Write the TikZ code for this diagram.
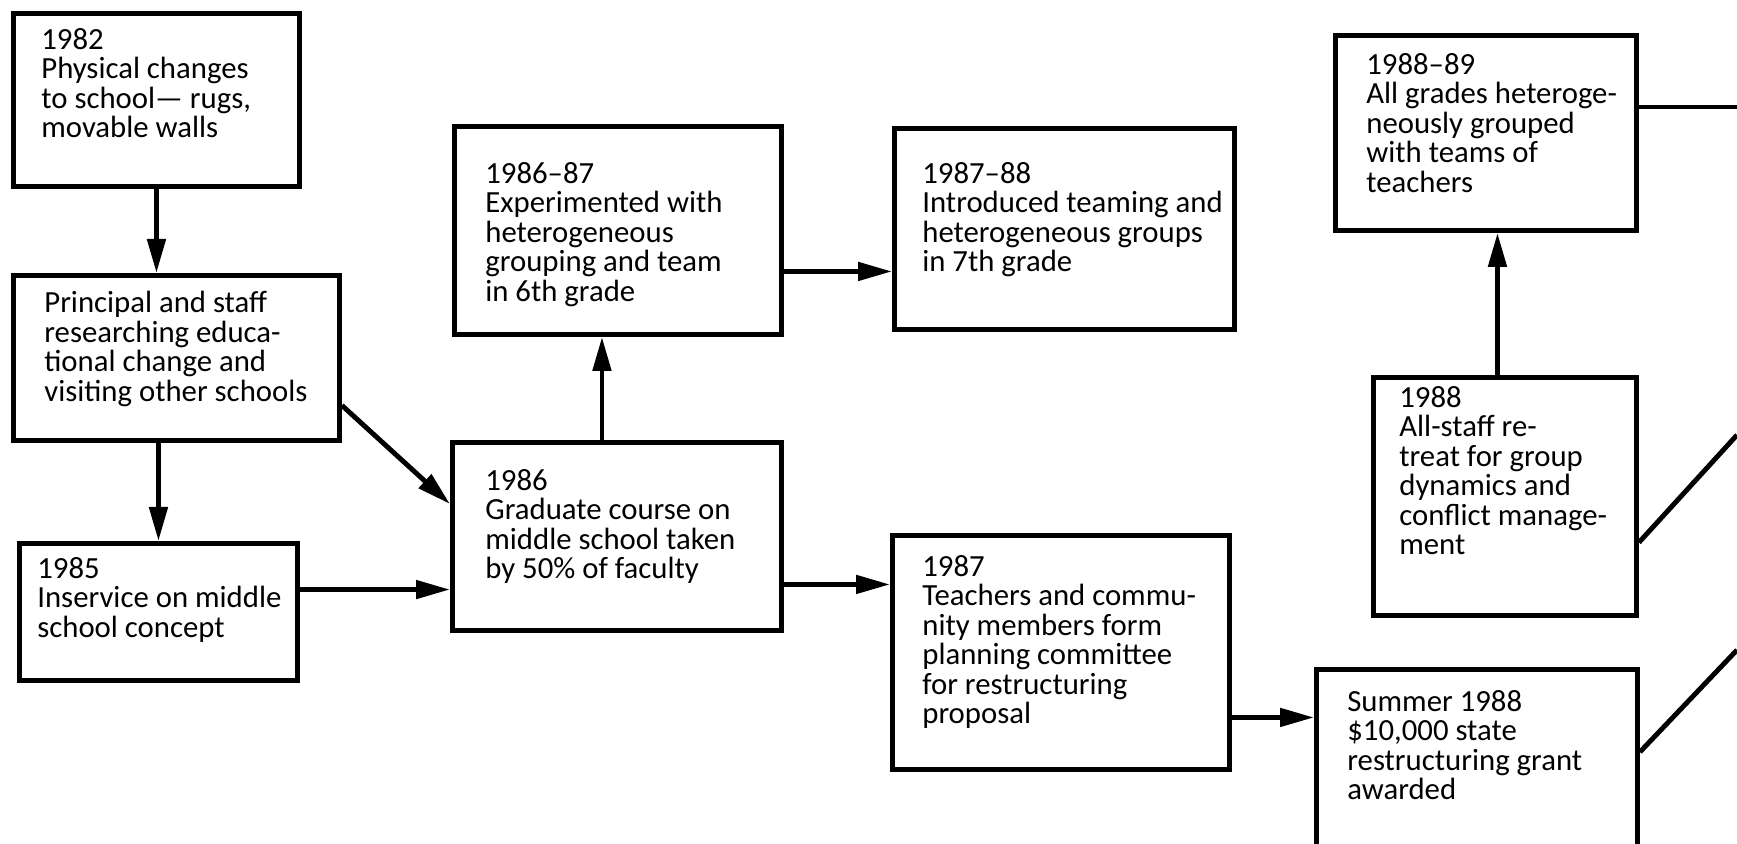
\documentclass[tikz,border=0pt]{standalone}
\usepackage{fontspec}
\usepackage{tikz}
\usetikzlibrary{arrows.meta}
\newfontfamily\handfont{Carlito}

\tikzset{
  stage/.style={draw, line width=2.8pt, anchor=north west, inner sep=0pt},
  note/.style={anchor=north west, align=left, inner sep=0pt,
    font={\handfont\fontsize{17.5}{16.8}\selectfont}},
  flow/.style={line width=2.8pt, -{Triangle[length=0.68cm, width=0.36cm]}},
  link/.style={line width=2.8pt},
}

\begin{document}
\begin{tikzpicture}

 \useasboundingbox (0,0) rectangle (34.74,16.88);
 \clip (0,0) rectangle (34.74,16.88);

 % left column
 \node[stage, minimum width=5.72cm, minimum height=3.46cm] (b82) at (0.22,16.66) {};
 \node[note] (t82) at ([shift={(0.60,-0.34)}]b82.north west) {1982\\Physical changes\\to school— rugs,\\movable walls};
 \node[stage, minimum width=6.52cm, minimum height=3.30cm] (bprin) at (0.22,11.42) {};
 \node[note] (tprin) at ([shift={(0.66,-0.36)}]bprin.north west) {Principal and staff\\researching educa-\\tional change and\\visiting other schools};
 \node[stage, minimum width=5.56cm, minimum height=2.74cm] (b85) at (0.34,6.06) {};
 \node[note] (t85) at ([shift={(0.40,-0.32)}]b85.north west) {1985\\Inservice on middle\\school concept};

 % second column
 \node[stage, minimum width=6.54cm, minimum height=4.16cm] (b8687) at (9.04,14.40) {};
 \node[note] (t8687) at ([shift={(0.66,-0.76)}]b8687.north west) {1986–87\\Experimented with\\heterogeneous\\grouping and team\\in 6th grade};
 \node[stage, minimum width=6.58cm, minimum height=3.76cm] (b86) at (9.00,8.08) {};
 \node[note] (t86) at ([shift={(0.70,-0.58)}]b86.north west) {1986\\Graduate course on\\middle school taken\\by 50\% of faculty};

 % third column
 \node[stage, minimum width=6.80cm, minimum height=4.02cm] (b8788) at (17.84,14.36) {};
 \node[note] (t8788) at ([shift={(0.60,-0.72)}]b8788.north west) {1987–88\\Introduced teaming and\\heterogeneous groups\\in 7th grade};
 \node[stage, minimum width=6.74cm, minimum height=4.68cm] (b87) at (17.80,6.22) {};
 \node[note] (t87) at ([shift={(0.64,-0.44)}]b87.north west) {1987\\Teachers and commu-\\nity members form\\planning committee\\for restructuring\\proposal};

 % right column
 \node[stage, minimum width=6.02cm, minimum height=3.90cm] (b8889) at (26.66,16.22) {};
 \node[note] (t8889) at ([shift={(0.66,-0.40)}]b8889.north west) {1988–89\\All grades heteroge-\\neously grouped\\with teams of\\teachers};
 \node[stage, minimum width=5.26cm, minimum height=4.76cm] (b88) at (27.42,9.38) {};
 \node[note] (t88) at ([shift={(0.56,-0.22)}]b88.north west) {1988\\All-staff re-\\treat for group\\dynamics and\\conflict manage-\\ment};
 \node[stage, minimum width=6.42cm, minimum height=4.40cm] (bsum) at (26.28,3.54) {};
 \node[note] (tsum) at ([shift={(0.66,-0.46)}]bsum.north west) {Summer 1988\\\$10,000 state\\restructuring grant\\awarded};

 % ends running off the page
 \coordinate (e1) at (34.74,14.74);
 \coordinate (e2) at (34.74,8.18);
 \coordinate (e3) at (34.74,3.88);

 \draw[flow] (b82.south) -- (b82.south |- bprin.north);
 \draw[flow] (bprin.south -| b85.north) -- (b85.north);
 \draw[flow] (bprin.-16) -- (b86.169);
 \draw[flow] (b85.9) -- (b85.9 -| b86.west);
 \draw[flow] ([xshift=-3mm]b86.north) -- ([xshift=-3mm]b86.north |- b8687.south);
 \draw[flow] ([yshift=-8.2mm]b8687.east) -- ([yshift=-8.2mm]b8687.east -| b8788.west);
 \draw[flow] ([yshift=-9.6mm]b86.east) -- ([yshift=-9.6mm]b86.east -| b87.west);
 \draw[flow] ([yshift=-13mm]b87.east) -- ([yshift=-13mm]b87.east -| bsum.west);
 \draw[flow] ([xshift=-1.5mm]b88.north) -- ([xshift=-1.5mm]b88.north |- b8889.south);

 \draw[link] (b8889.east |- e1) -- (e1);
 \draw[link] ([yshift=-9.2mm]b88.east) -- (e2);
 \draw[link] ([yshift=-17mm]bsum.north east) -- (e3);

\end{tikzpicture}
\end{document}
